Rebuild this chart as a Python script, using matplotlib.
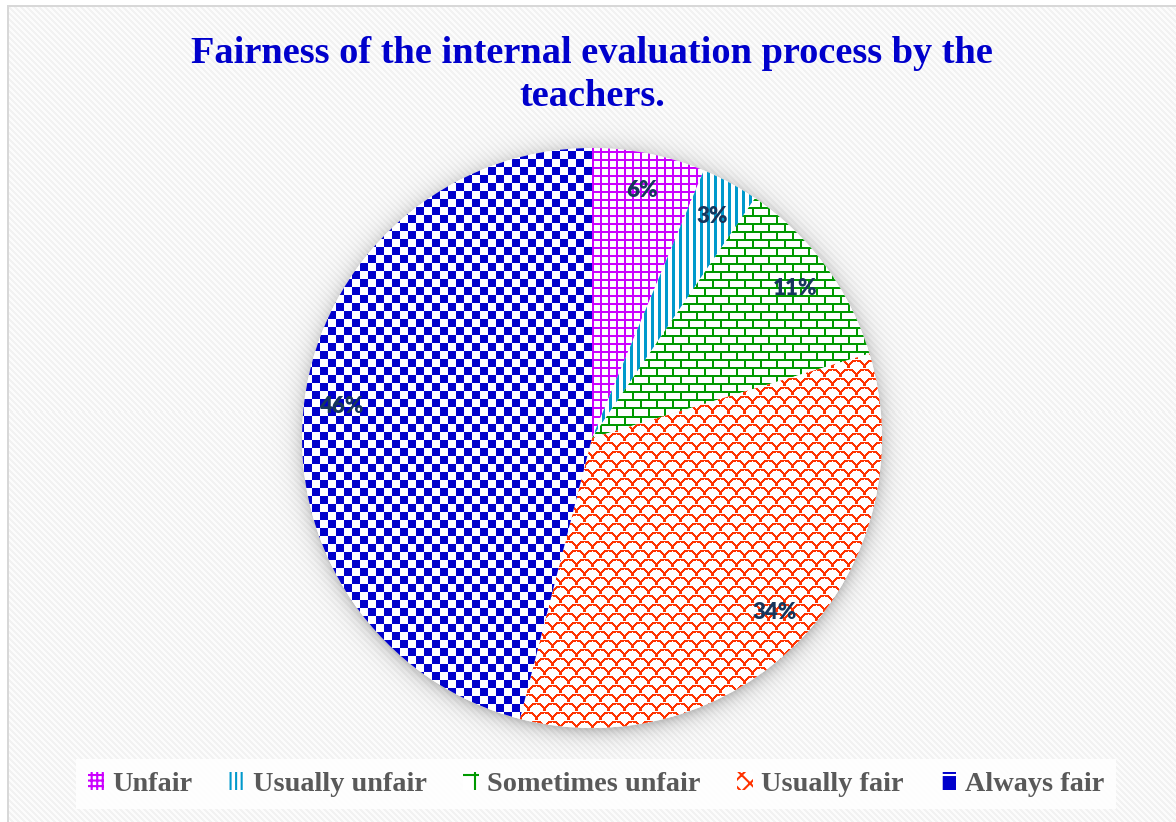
import numpy as np
import matplotlib
matplotlib.use("Agg")
import matplotlib.pyplot as plt
from matplotlib.patches import Patch

# data
categories = ["Unfair", "Usually unfair", "Sometimes unfair", "Usually fair", "Always fair"]
shares = [6.3, 3.2, 10.8, 33.7, 46.0]
colors = ["#CC00FF", "#0099CC", "#009900", "#FF3300", "#0000CC"]
title_lines = ["Fairness of the internal evaluation process by the", "teachers."]

W, H = 1176, 822
cx, cy, R = 592, 438, 290   # pie centre / radius in pixels (row from top)

fig = plt.figure(figsize=(W / 100, H / 100), dpi=100)
ax = fig.add_axes([0, 0, 1, 1])

rr, cc = np.mgrid[0:H, 0:W]

# striped grey background with a soft shadow round the pie
bg = np.where(((cc - rr) % 6) < 3, 0.95, 0.99)
d = np.sqrt((cc - cx) ** 2 + (rr - cy - 3) ** 2)
shade = 0.22 * np.exp(-np.clip(d - R + 2, 0, None) / 9.0)
bg = bg * (1 - shade)
bg[(cc < 7) | (rr < 6)] = 1.0
bg[((cc >= 7) & (cc < 9) & (rr >= 6)) | ((rr >= 6) & (rr < 8) & (cc >= 7))] = 0.85
ax.imshow(np.dstack([bg, bg, bg]), extent=(0, W, 0, H), origin="upper",
          interpolation="nearest", zorder=0)


def fill_pattern(mask, color):
    rgb = np.array(matplotlib.colors.to_rgb(color))
    img = np.ones((H, W, 3))
    img[mask] = rgb
    return img


# patterns (figure pixels)
grid = (rr % 8 < 2) | (cc % 8 < 2)
stripes = cc % 7 < 3
brow = rr // 8
brick = (rr % 8 < 2) | (((cc + (brow % 2) * 8) % 16) < 2)
srow = rr // 9
lx = (cc + (srow % 2) * 8) % 16 - 8
ly = rr % 9
sd = np.sqrt(lx ** 2 + (ly - 9.0) ** 2)
scales = np.abs(sd - 8) < 1.0
checker = ((rr // 8 + cc // 8) % 2) == 0
masks = [grid, stripes, brick, scales, checker]

wedges, autotexts = ax.pie(
    shares, center=(cx, H - cy), radius=R, startangle=90, counterclock=False,
    autopct="%.0f%%", pctdistance=0.87, frame=True,
    wedgeprops=dict(facecolor="white", linewidth=0),
    textprops=dict(fontsize=16, fontweight="heavy", color="#17365D", family="Lato"))[0::2]

for w, m, col in zip(wedges, masks, colors):
    im = ax.imshow(fill_pattern(m, col), extent=(0, W, 0, H), origin="upper",
                   interpolation="nearest", zorder=2)
    im.set_clip_path(w)
for t in autotexts:
    t.set_zorder(5)

ax.text(cx, H - 63, title_lines[0], ha="center", va="baseline", fontsize=27.6,
        family="Liberation Serif", fontweight="bold", color="#0000CC")
ax.text(cx, H - 106, title_lines[1], ha="center", va="baseline", fontsize=27.6,
        family="Liberation Serif", fontweight="bold", color="#0000CC")

hatches = ["+++", "|||", "+", "xx", "+"]
handles = []
for i, (lab, col, h) in enumerate(zip(categories, colors, hatches)):
    if i == 4:
        handles.append(Patch(facecolor=col, edgecolor="white", hatch=h, linewidth=0, label=lab))
    else:
        handles.append(Patch(facecolor="white", edgecolor=col, hatch=h, linewidth=0, label=lab))
matplotlib.rcParams["hatch.linewidth"] = 1.5
leg = ax.legend(handles=handles, loc="center", bbox_to_anchor=(596, H - 784),
                bbox_transform=ax.transData, ncol=5, frameon=True, fancybox=False,
                facecolor="white", edgecolor="none", framealpha=0.85,
                handlelength=0.55, handleheight=0.6, handletextpad=0.3,
                columnspacing=1.3, borderpad=0.45, borderaxespad=0,
                prop=dict(family="Liberation Serif", weight="bold", size=20.3))
for t in leg.get_texts():
    t.set_color("#595959")

ax.set_xlim(0, W)
ax.set_ylim(0, H)
ax.set_aspect("auto")
ax.axis("off")

fig.savefig("out.png", dpi=100)
